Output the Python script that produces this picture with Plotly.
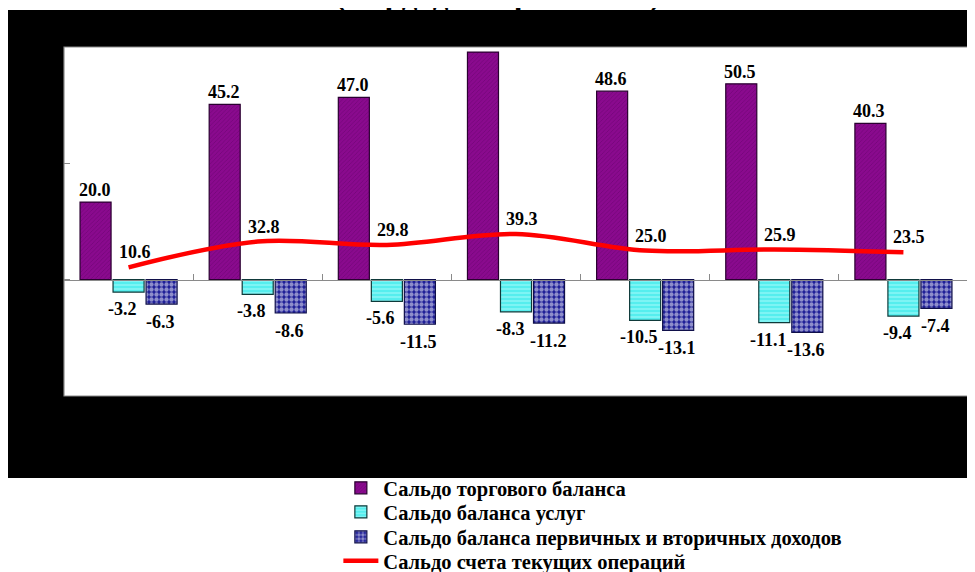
import plotly.graph_objects as go

categories = ["Q1", "Q2", "Q3", "Q4", "Q5", "Q6", "Q7"]
trade = [20.0, 45.2, 47.0, 58.7, 48.6, 50.5, 40.3]
services = [-3.2, -3.8, -5.6, -8.3, -10.5, -11.1, -9.4]
income = [-6.3, -8.6, -11.5, -11.2, -13.1, -13.6, -7.4]
current = [10.6, 32.8, 29.8, 39.3, 25.0, 25.9, 23.5]
names = ["Сальдо торгового баланса", "Сальдо баланса услуг",
         "Сальдо баланса первичных и вторичных доходов", "Сальдо счета текущих операций"]
title_text = "(млрд. долларов США)"
# which bar labels to print (the tallest bar's label is hidden above the frame in the original)
trade_labels = [f"{v:.1f}" for v in trade]
trade_labels[3] = ""

FONT = "Liberation Serif"
lab_font = dict(family=FONT, size=18, color="black", weight="bold")

fig = go.Figure()
fig.add_trace(go.Bar(
    x=categories, y=trade, name=names[0], legend="legend",
    marker=dict(color="#85008a", line=dict(color="#2a0030", width=1.2),
                pattern=dict(shape="/", fgcolor="#5a0062", bgcolor="#8a0a8e", size=3, solidity=0.25))))
fig.add_trace(go.Bar(
    x=categories, y=services, name=names[1], legend="legend2",
    marker=dict(color="#5ff2f2", line=dict(color="#0f3a3a", width=1.2),
                pattern=dict(shape="-", fgcolor="#c8ffff", bgcolor="#55eeee", size=4, solidity=0.35))))
fig.add_trace(go.Bar(
    x=categories, y=income, name=names[2], legend="legend3",
    marker=dict(color="#1a1a90", line=dict(color="#10104a", width=1.2),
                pattern=dict(shape=".", fgcolor="#ffffff", bgcolor="#1c1c96", size=5, solidity=0.6))))
fig.add_trace(go.Scatter(
    x=categories, y=current, name=names[3], yaxis="y2", mode="lines", legend="legend4",
    line=dict(color="#ff0000", width=4.5, shape="spline", smoothing=1.0)))

# value labels (offsets are label styling relative to each bar in its group)
for c, v, t in zip(categories, trade, trade_labels):
    if t:
        fig.add_annotation(x=c, y=v, text=t, showarrow=False, yanchor="middle",
                           xshift=-34, yshift=12, font=lab_font)
for c, v in zip(categories, services):
    fig.add_annotation(x=c, y=v, text=f"{v:.1f}", showarrow=False, yanchor="middle",
                       xshift=-6, yshift=-17, font=lab_font)
for c, v in zip(categories, income):
    fig.add_annotation(x=c, y=v, text=f"{v:.1f}", showarrow=False, yanchor="middle",
                       xshift=32, yshift=-18, font=lab_font)
for c, v in zip(categories, current):
    fig.add_annotation(x=c, y=v, yref="y2", text=f"{v:.1f}", showarrow=False,
                       xshift=6, yshift=15, font=lab_font)

fig.add_annotation(x=0.4796, y=1.092, xref="paper", yref="paper", yanchor="bottom",
                   text=title_text, showarrow=False,
                   font=dict(family=FONT, size=31, color="black", weight="bold"))

leg_font = dict(family=FONT, size=20.5, color="black", weight="bold")
def leg(y):
    return dict(x=0.3035, y=y, xanchor="left", yanchor="middle", font=leg_font,
                bgcolor="rgba(0,0,0,0)", itemwidth=35)

n = len(categories)
fig.update_layout(
    width=967, height=564,
    margin=dict(l=56, r=7, t=39, b=176, autoexpand=False),
    paper_bgcolor="white", plot_bgcolor="rgba(0,0,0,0)",
    barmode="group", bargap=0.233, bargroupgap=0.06,
    font=dict(family=FONT, size=17, color="black"),
    showlegend=True,
    legend=leg(-0.2636), legend2=leg(-0.3324), legend3=leg(-0.4040), legend4=leg(-0.4728),
    xaxis=dict(type="category", showticklabels=False, showgrid=False, zeroline=False,
               showline=True, linecolor="#8a8a8a", linewidth=1.2,
               anchor="free", position=1/3, ticks="inside", tickson="boundaries",
               ticklen=6, tickcolor="#8a8a8a", range=[-0.5, n - 0.5]),
    xaxis2=dict(overlaying="x", range=[-0.5, n - 0.5], showticklabels=False,
                showgrid=False, zeroline=False, showline=False,
                anchor="free", position=1/3, ticks="outside",
                tickvals=[i + 0.5 for i in range(n)], ticklen=6, tickcolor="#8a8a8a"),
    yaxis=dict(range=[-30, 60], tickvals=[-30, 0, 30, 60], ticks="inside", ticklen=6,
               tickcolor="#8a8a8a", showticklabels=False, showgrid=False, zeroline=False,
               showline=False),
    yaxis2=dict(range=[-100, 200], overlaying="y", side="right", showticklabels=False,
                showgrid=False, zeroline=False, showline=False, ticks=""),
    shapes=[
        dict(type="rect", xref="paper", yref="paper", x0=-0.0625, x1=1.02, y0=-0.235, y1=1.106,
             fillcolor="black", line=dict(width=0), layer="below"),
        dict(type="rect", xref="paper", yref="paper", x0=0, x1=1, y0=0, y1=1,
             fillcolor="white", line=dict(color="#8a8a8a", width=1.2), layer="below"),
    ],
)

fig.write_html("out.html")
